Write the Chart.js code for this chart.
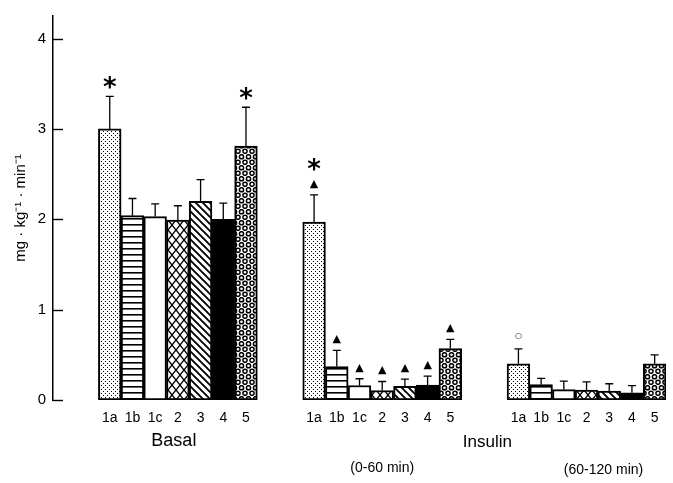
<!DOCTYPE html>
<html><head><meta charset="utf-8">
<script src="https://cdn.jsdelivr.net/npm/chart.js@4.4.1/dist/chart.umd.min.js"></script>
<style>html,body{margin:0;padding:0;background:#fff;}#wrap{width:673px;height:483px;}</style>
</head><body><div id="wrap"><canvas id="c" width="673" height="483"></canvas></div>
<script>
// ---- data ----
const subgroups = ['1a','1b','1c','2','3','4','5'];
const groupTitles = ['Basal', 'Insulin'];
const periodLabels = ['(0-60 min)', '(60-120 min)'];
const yTicks = [0, 1, 2, 3, 4];
const yAxisTitle = 'mg · kg⁻¹ · min⁻¹';

const basalMean  = [3.00, 2.04, 2.03, 1.99, 2.20, 2.00, 2.81];
const basalErr   = [0.36, 0.19, 0.14, 0.16, 0.24, 0.18, 0.43];
const basalMarks = ['*', '', '', '', '', '', '*'];

const ins60Mean  = [1.97, 0.37, 0.16, 0.105, 0.15, 0.165, 0.57];
const ins60Err   = [0.30, 0.18, 0.075, 0.10, 0.08, 0.10, 0.10];
const ins60Marks = ['▲*', '▲', '▲', '▲', '▲', '▲', '▲'];

const ins120Mean  = [0.40, 0.17, 0.115, 0.11, 0.10, 0.08, 0.40];
const ins120Err   = [0.165, 0.07, 0.095, 0.09, 0.08, 0.08, 0.10];
const ins120Marks = ['○', '', '', '', '', '', ''];

// ---- patterns ----
function tile(w, h, draw) {
  const c = document.createElement('canvas'); c.width = w; c.height = h;
  const g = c.getContext('2d');
  g.fillStyle = '#fff'; g.fillRect(0, 0, w, h);
  g.fillStyle = '#000'; g.strokeStyle = '#000';
  draw(g, w, h);
  return document.getElementById('c').getContext('2d').createPattern(c, 'repeat');
}
const patterns = [
  tile(4, 4, g => { g.fillRect(1, 1, 1, 1); g.fillRect(3, 3, 1, 1); }),
  tile(6, 6, g => { g.fillRect(0, 2, 6, 1.6); }),
  '#ffffff',
  tile(8, 10, g => { g.lineWidth = 1.4; g.beginPath(); g.moveTo(0, 0); g.lineTo(8, 10); g.moveTo(8, 0); g.lineTo(0, 10); g.stroke(); }),
  tile(7, 7, g => { g.lineWidth = 1.9; g.beginPath(); g.moveTo(-1, -1); g.lineTo(8, 8); g.moveTo(-1, 6); g.lineTo(1, 8); g.moveTo(6, -1); g.lineTo(8, 1); g.stroke(); }),
  '#000000',
  tile(7, 11, g => { g.lineWidth = 1.5; [[3.5, 2.75], [0, 8.25], [7, 8.25]].forEach(p => { g.beginPath(); g.arc(p[0], p[1], 2.1, 0, Math.PI * 2); g.stroke(); }); })
];

// ---- build slot table (2 empty slots before each group) ----
const labels = [], values = [], errs = [], marks = [], fills = [];
[[basalMean, basalErr, basalMarks], [ins60Mean, ins60Err, ins60Marks], [ins120Mean, ins120Err, ins120Marks]].forEach(([m, e, k]) => {
  for (let j = 0; j < 2; j++) { labels.push(''); values.push(null); errs.push(null); marks.push(''); fills.push('#fff'); }
  subgroups.forEach((s, i) => { labels.push(s); values.push(m[i]); errs.push(e[i]); marks.push(k[i]); fills.push(patterns[i]); });
});

const FONT = 'Liberation Sans, Arial, sans-serif';

const overlay = {
  id: 'overlay',
  afterDatasetsDraw(chart) {
    const ctx = chart.ctx, xs = chart.scales.x, ys = chart.scales.y;
    const meta = chart.getDatasetMeta(0);
    ctx.save();
    ctx.strokeStyle = '#000'; ctx.fillStyle = '#000';
    // y tick marks (inward)
    ctx.lineWidth = 1.4;
    yTicks.forEach(v => {
      const py = Math.round(ys.getPixelForValue(v)) + 0.5;
      ctx.beginPath(); ctx.moveTo(chart.chartArea.left, py); ctx.lineTo(chart.chartArea.left + 10, py); ctx.stroke();
    });
    // error bars + markers
    values.forEach((v, i) => {
      if (v === null) return;
      const cx = meta.data[i].x;
      const top = ys.getPixelForValue(v);
      const et = ys.getPixelForValue(v + errs[i]);
      ctx.lineWidth = 1.3;
      ctx.beginPath(); ctx.moveTo(cx, top); ctx.lineTo(cx, et); ctx.moveTo(cx - 4, et); ctx.lineTo(cx + 4, et); ctx.stroke();
      let yc = et;
      [...marks[i]].forEach((ch, k) => {
        let font, off;
        if (ch === '*') { font = 'bold 26px DejaVu Sans'; off = k === 0 ? 14 : 19; }
        else if (ch === '▲') { font = '11px DejaVu Sans'; off = 11; }
        else { font = '8px DejaVu Sans'; off = 13; }
        yc -= off;
        ctx.font = font; ctx.textAlign = 'center'; ctx.textBaseline = 'alphabetic';
        const m = ctx.measureText(ch);
        ctx.fillText(ch, cx, yc + (m.actualBoundingBoxAscent - m.actualBoundingBoxDescent) / 2);
      });
    });
    // group titles
    const gc = g => (meta.data[2 + g * 9].x + meta.data[8 + g * 9].x) / 2;
    ctx.textAlign = 'center'; ctx.textBaseline = 'middle';
    ctx.font = '18px ' + FONT; ctx.fillText(groupTitles[0], gc(0) - 4, 441);
    ctx.font = '17px ' + FONT; ctx.fillText(groupTitles[1], (gc(1) + gc(2)) / 2 + 3, 442);
    ctx.font = '14px ' + FONT;
    ctx.fillText(periodLabels[0], gc(1), 468);
    ctx.fillText(periodLabels[1], gc(2) + 17, 470);
    ctx.restore();
  }
};

new Chart(document.getElementById('c'), {
  type: 'bar',
  data: { labels: labels, datasets: [{ data: values, backgroundColor: fills, borderColor: '#000', borderWidth: 2, borderSkipped: false, barPercentage: 1, categoryPercentage: 1 }] },
  options: {
    responsive: false, animation: false,
    layout: { padding: { top: 7, right: 7, left: 0, bottom: 0 } },
    plugins: { legend: { display: false }, tooltip: { enabled: false } },
    scales: {
      x: {
        type: 'category', offset: true,
        grid: { display: false, drawTicks: false }, border: { display: false },
        ticks: { autoSkip: false, maxRotation: 0, minRotation: 0, padding: 10, color: '#000', font: { family: FONT, size: 14 } },
        afterFit(s) { s.height = 83; }
      },
      y: {
        min: 0, max: 4.25,
        grid: { display: false, drawTicks: false }, border: { display: true, color: '#000', width: 1.5 },
        ticks: { stepSize: 1, includeBounds: false, padding: 7, color: '#000', font: { family: FONT, size: 15 } },
        title: { display: true, text: yAxisTitle, color: '#000', font: { family: FONT, size: 15 }, padding: { top: 12, bottom: 0 } },
        afterFit(s) { s.width = 53; }
      }
    }
  },
  plugins: [overlay]
});
</script></body></html>
